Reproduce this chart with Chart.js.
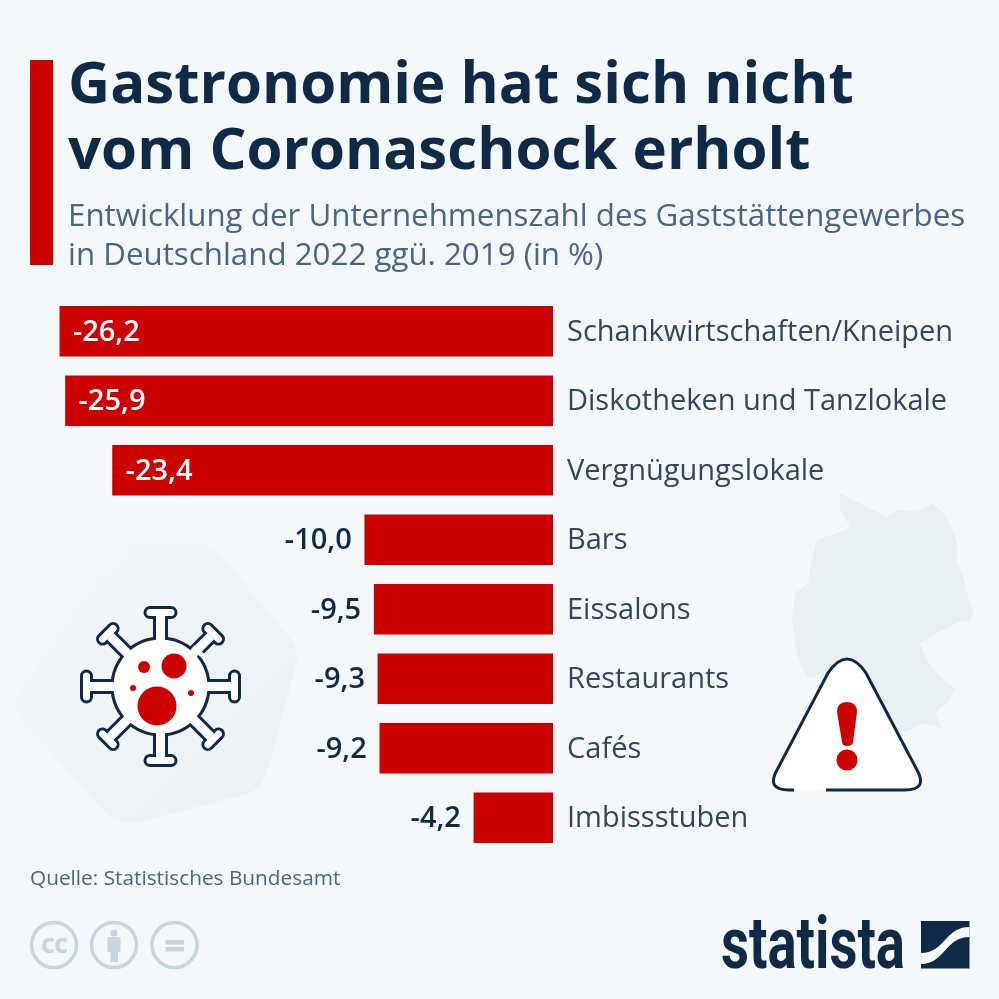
<!DOCTYPE html>
<html lang="de">
<head>
<meta charset="utf-8">
<title>Gastronomie hat sich nicht vom Coronaschock erholt</title>
<script src="https://cdn.jsdelivr.net/npm/chart.js@4"></script>
<style>
html, body { margin: 0; padding: 0; background: #f4f8fb; }
#page { position: relative; width: 999px; height: 999px; overflow: hidden; font-family: "Open Sans", sans-serif; }
#page svg { position: absolute; left: 0; top: 0; }
#chart-wrap { position: absolute; left: 0; top: 0; width: 999px; height: 999px; }
.t { position: absolute; white-space: nowrap; }
#bar-accent { position: absolute; left: 30px; top: 60px; width: 23px; height: 205px; background: #cc0000; }
.title { left: 68px; font-size: 58.2px; font-weight: 700; color: #0f2a47; line-height: 66px; }
.sub { left: 68px; font-size: 31.3px; color: #4b6584; line-height: 40px; }
</style>
</head>
<body>
<div id="page">
	<svg width="999" height="999" viewBox="0 0 999 999">
		<defs>
			<linearGradient id="blob" x1="0" y1="0" x2="1" y2="1">
				<stop offset="0" stop-color="#f4f8fb"/>
				<stop offset="1" stop-color="#ebf0f4"/>
			</linearGradient>
			<filter id="soft"><feGaussianBlur stdDeviation="0.9"/></filter>
			<g id="arm-a"><rect x="-4.500" y="-71" width="9" height="31"/><rect x="-14" y="-77.500" width="28" height="7" rx="3.500"/></g>
			<g id="arm-b"><rect x="-4.500" y="-71" width="9" height="31"/><rect x="-11" y="-78" width="22" height="7" rx="3.500"/></g>
			<g id="virus">
				<circle r="47"/>
				<use href="#arm-a"/>
				<use href="#arm-a" transform="rotate(90)"/>
				<use href="#arm-a" transform="rotate(180)"/>
				<use href="#arm-a" transform="rotate(270)"/>
				<use href="#arm-b" transform="rotate(45)"/>
				<use href="#arm-b" transform="rotate(135)"/>
				<use href="#arm-b" transform="rotate(225)"/>
				<use href="#arm-b" transform="rotate(315)"/>
			</g>
		</defs>
		<!-- background shapes -->
		<path d="M20 690 Q10 705 24 722 L105 812 Q120 828 145 820 L245 795 Q262 790 268 770 L296 665 Q300 650 290 638 L225 560 Q212 545 195 542 L140 545 Q125 545 115 555 Z" fill="url(#blob)"/>
		<path transform="translate(750 480) scale(.3333)" fill="#e9f0f4" filter="url(#soft)" d="M270 40 L330 70 L410 110 L440 90 L500 95 L550 70 L590 110 L620 180 L620 240 L640 290 L660 370 L670 400 L660 425 L630 425 L560 460 L510 490 L530 540 L570 590 L615 625 L600 660 L555 700 L575 745 L520 730 L470 755 L350 760 L250 600 L170 590 L150 550 L135 490 L125 420 L135 340 L175 310 L180 260 L200 180 L260 160 L300 140 L270 90 Z"/>
		<!-- virus -->
		<use href="#virus" transform="translate(160.500 686.500)" fill="#0f2a47" stroke="#0f2a47" stroke-width="6" stroke-linejoin="round"/>
		<use href="#virus" transform="translate(160.500 686.500)" fill="#fff"/>
		<path d="M193 647 L203 656" stroke="#fff" stroke-width="5" fill="none"/>
		<g fill="#cc0000">
			<circle cx="157" cy="706" r="19.500"/>
			<circle cx="174" cy="666" r="12.500"/>
			<circle cx="144" cy="667" r="6"/>
			<circle cx="133" cy="688" r="3"/>
			<circle cx="191" cy="693" r="3"/>
		</g>
		<!-- warning sign -->
		<path d="M826 790 L905 790 Q928 790 917 770 L866 673 Q847 645 828 673 L777 770 Q766 790 789 790 L794 790 Z" fill="#fff"/>
		<path d="M826 790 L905 790 Q928 790 917 770 L866 673 Q847 645 828 673 L777 770 Q766 790 789 790 L794 790" fill="none" stroke="#0f2a47" stroke-width="3"/>
		<path d="M837 712 Q837 702 847 702 Q857 702 857 712 L853 742 Q852.500 746 847 746 Q842.500 746 842 742 Z" fill="#cc0000"/>
		<circle cx="847" cy="760" r="10.500" fill="#cc0000"/>
		<!-- licence icons -->
		<g fill="none" stroke="#c8d4de" stroke-width="3.500">
			<circle cx="54" cy="945" r="22.500"/>
			<circle cx="114" cy="945" r="22.500"/>
			<circle cx="174.500" cy="945" r="22.500"/>
		</g>
		<g fill="#c8d4de">
			<text x="54" y="953" font-family="Open Sans" font-size="27" font-weight="700" letter-spacing="-1" text-anchor="middle">cc</text>
			<circle cx="114" cy="933" r="3.500"/>
			<rect x="107.500" y="937" width="13" height="15" rx="1.500"/>
			<rect x="110.500" y="950" width="7.500" height="12"/>
			<rect x="165.500" y="940" width="18.500" height="4.500"/>
			<rect x="165.500" y="947" width="18.500" height="4.500"/>
		</g>
		<!-- logo -->
		<text x="721" y="968" font-family="Roboto" font-size="72" font-weight="700" fill="#0f2a47" textLength="184" lengthAdjust="spacingAndGlyphs">statista</text>
		<rect x="921" y="921" width="48.500" height="47.500" fill="#0f2a47"/>
		<path d="M969.500 927 C945 927 945 953 921 953 L921 964 C945 964 945 937 969.500 937 Z" fill="#f4f8fb"/>
	</svg>
	<div id="chart-wrap"><canvas id="gastro-chart" width="999" height="999"></canvas></div>
	<div id="bar-accent"></div>
	<div class="t title" style="top:48px">Gastronomie hat sich nicht</div>
	<div class="t title" style="top:114px">vom Coronaschock erholt</div>
	<div class="t sub" style="top:194px">Entwicklung der Unternehmenszahl des Gaststättengewerbes</div>
	<div class="t sub" style="top:233px">in Deutschland 2022 ggü. 2019 (in %)</div>
	<div class="t" style="left:30px;top:863px;font-size:20.8px;color:#4b6584">Quelle: Statistisches Bundesamt</div>
</div>
<script>
var categories = ["Schankwirtschaften/Kneipen", "Diskotheken und Tanzlokale", "Vergnügungslokale", "Bars", "Eissalons", "Restaurants", "Cafés", "Imbissstuben"];
var changeValues = [-26.2, -25.9, -23.4, -10.0, -9.5, -9.3, -9.2, -4.2];

var barRed = "#cc0000";
var navy = "#0f2a47";
var slate = "#33465c";

function formatValue(v) {
	return v.toFixed(1).replace(".", ",");
}

// value labels: white inside long bars, dark in front of short ones
var valueLabels = {
	id: "valueLabels",
	afterDatasetsDraw: function(chart) {
		var ctx = chart.ctx;
		var meta = chart.getDatasetMeta(0);
		ctx.save();
		ctx.font = "600 29px 'Open Sans'";
		ctx.textBaseline = "middle";
		meta.data.forEach(function(bar, i) {
			var v = changeValues[i];
			if (v < -15) {
				ctx.fillStyle = "#fff";
				ctx.textAlign = "left";
				ctx.fillText(formatValue(v), bar.x + 13, bar.y + 1);
			} else {
				ctx.fillStyle = navy;
				ctx.textAlign = "right";
				ctx.fillText(formatValue(v), bar.x - 13, bar.y + 1);
			}
		});
		ctx.restore();
	}
};

new Chart(document.getElementById("gastro-chart"), {
	type: "bar",
	data: {
		labels: categories,
		datasets: [{
			data: changeValues,
			backgroundColor: barRed,
			borderWidth: 0,
			barThickness: 50
		}]
	},
	options: {
		indexAxis: "y",
		responsive: false,
		animation: false,
		layout: { padding: { left: 26, top: 296.5, bottom: 146.5, right: 0 } },
		plugins: { legend: { display: false }, tooltip: { enabled: false } },
		scales: {
			x: { display: false, min: -28, max: 0 },
			y: {
				position: "right",
				afterFit: function(scale) { scale.width = 446; },
				grid: { display: false },
				border: { display: false },
				ticks: {
					color: slate,
					padding: 6,
					labelOffset: 1,
					crossAlign: "near",
					font: { family: "Open Sans", size: 29 }
				}
			}
		}
	},
	plugins: [valueLabels]
});
</script>
</body>
</html>
